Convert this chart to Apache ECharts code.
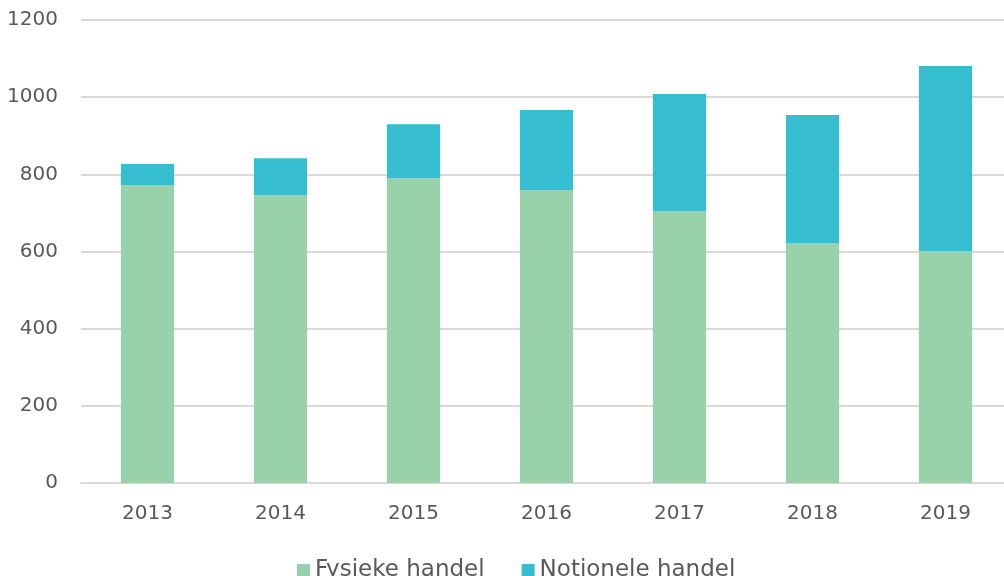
<!DOCTYPE html>
<html>
<head>
<meta charset="utf-8">
<script src="https://cdn.jsdelivr.net/npm/echarts@6/dist/echarts.min.js"></script>
<style>
  html, body { margin: 0; padding: 0; background: #fff; overflow: hidden; }
  #chart { width: 1012px; height: 576px; }
</style>
</head>
<body>
<div id="chart"></div>
<script>
const years = ['2013', '2014', '2015', '2016', '2017', '2018', '2019'];
const fysieke = [772, 746, 790, 759, 704, 622, 601];
const notionele = [55, 96, 140, 208, 304, 332, 480];
const yTicks = [0, 200, 400, 600, 800, 1000, 1200];

// the plot runs a little past the right edge of the window, like the original
const chart = echarts.init(document.getElementById('chart'));
const textColor = '#595959';
const font = '"DejaVu Sans", sans-serif';

const options = {
  animation: false,
  textStyle: { fontFamily: font },
  grid: {
    left: 81,
    top: 20,
    right: 0,
    height: 463
  },
  legend: {
    left: 297,
    top: 559,
    padding: 0,
    itemWidth: 13,
    itemHeight: 13,
    itemGap: 37,
    icon: 'rect',
    textStyle: { color: textColor, fontSize: 23, fontFamily: font },
    data: ['Fysieke handel', 'Notionele handel']
  },
  xAxis: {
    type: 'category',
    data: years,
    axisLine: { lineStyle: { color: '#d9d9d9', width: 2 } },
    axisTick: { show: false },
    axisLabel: { color: textColor, fontSize: 20, margin: 21, fontFamily: font }
  },
  yAxis: {
    type: 'value',
    min: yTicks[0],
    max: yTicks[yTicks.length - 1],
    interval: 200,
    axisLine: { show: false },
    axisTick: { show: false },
    axisLabel: {
      color: textColor, fontSize: 20, margin: 23, fontFamily: font,
      formatter: v => String(v)
    },
    splitLine: { lineStyle: { color: '#d9d9d9', width: 2 } }
  },
  series: [
    {
      name: 'Fysieke handel',
      type: 'bar',
      stack: 'total',
      barWidth: '40%',
      itemStyle: { color: '#98d1aa' },
      data: fysieke
    },
    {
      name: 'Notionele handel',
      type: 'bar',
      stack: 'total',
      barWidth: '40%',
      itemStyle: { color: '#37bdd0' },
      data: notionele
    }
  ]
};

chart.setOption(options);
</script>
</body>
</html>
